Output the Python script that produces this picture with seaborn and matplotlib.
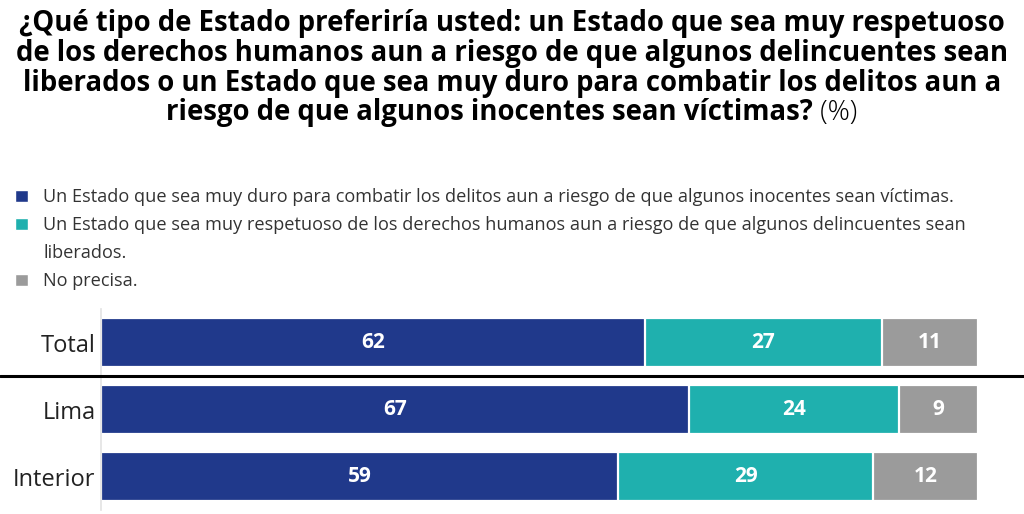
import matplotlib
matplotlib.use('Agg')
import matplotlib.pyplot as plt
import matplotlib.transforms as mtransforms
from matplotlib.patches import Patch
from matplotlib.lines import Line2D
import seaborn as sns
import pandas as pd

categories = ['Total', 'Lima', 'Interior']
duro = [62, 67, 59]
respetuoso = [27, 24, 29]
no_precisa = [11, 9, 12]

legend_labels = [
    'Un Estado que sea muy duro para combatir los delitos aun a riesgo de que algunos inocentes sean víctimas.',
    'Un Estado que sea muy respetuoso de los derechos humanos aun a riesgo de que algunos delincuentes sean',
    'liberados.',
    'No precisa.',
]
title_lines = [
    '¿Qué tipo de Estado preferiría usted: un Estado que sea muy respetuoso',
    'de los derechos humanos aun a riesgo de que algunos delincuentes sean',
    'liberados o un Estado que sea muy duro para combatir los delitos aun a',
    'riesgo de que algunos inocentes sean víctimas?',
]
title_suffix = ' (%)'

NAVY = '#20398b'
TEAL = '#1fb0ae'
GRAY = '#9b9b9b'

sns.set_theme(style='white')
plt.rcParams['font.family'] = ['Open Sans', 'DejaVu Sans']

fig = plt.figure(figsize=(10.24, 5.14), dpi=100)
ax = fig.add_axes([101 / 1024, 1 - 510 / 514, 877 / 1024, (510 - 309) / 514])

df = pd.DataFrame({'cat': categories, 'duro': duro, 'resp': respetuoso, 'np': no_precisa})
df['c1'] = df['duro']
df['c2'] = df['duro'] + df['resp']
df['c3'] = df['c2'] + df['np']

for col, colr in [('c3', GRAY), ('c2', TEAL), ('c1', NAVY)]:
    sns.barplot(data=df, x=col, y='cat', color=colr, saturation=1, width=0.73,
                edgecolor='white', linewidth=1.6, orient='h', ax=ax)

for i, row in df.iterrows():
    lefts = [0, row['c1'], row['c2']]
    vals = [row['duro'], row['resp'], row['np']]
    for l, v in zip(lefts, vals):
        ax.text(l + v / 2, i, str(v), ha='center', va='center', color='white',
                fontsize=15, fontweight='bold')

ax.set_xlim(0, 100)
ax.set_ylim(2.5, -0.5)
ax.set_xlabel('')
ax.set_ylabel('')
ax.set_xticks([])
for s in ['top', 'right', 'bottom']:
    ax.spines[s].set_visible(False)
ax.spines['left'].set_color('#e4e4e4')
ax.tick_params(axis='y', length=0, pad=4, labelsize=17, labelcolor='#222222')

# separator between Total and regions
trans = mtransforms.blended_transform_factory(fig.transFigure, ax.transData)
fig.add_artist(Line2D([0, 1], [0.5, 0.5], transform=trans, color='black', lw=2.2))

# legend
handles = [Patch(facecolor=NAVY), Patch(facecolor=TEAL),
           Patch(facecolor='none', edgecolor='none'), Patch(facecolor=GRAY)]
fig.legend(handles, legend_labels, loc='upper left', bbox_to_anchor=(0.008, 1 - 181 / 514),
           frameon=False, fontsize=13.1, handlelength=0.68, handleheight=0.68,
           handletextpad=0.85, labelspacing=0.55, borderaxespad=0, labelcolor='#333333')

# title
baselines = [31, 61, 91, 120]
TFS = 19.8
for k, line in enumerate(title_lines[:-1]):
    fig.text(0.5, 1 - baselines[k] / 514, line, ha='center', va='baseline',
             fontsize=TFS, fontweight='bold', color='black')

fig.canvas.draw()
r = fig.canvas.get_renderer()
tb = fig.text(0, 1 - baselines[3] / 514, title_lines[-1], ha='left', va='baseline',
              fontsize=TFS, fontweight='bold', color='black')
ts = fig.text(0, 1 - baselines[3] / 514, title_suffix, ha='left', va='baseline',
              fontsize=TFS, fontweight='light', color='black')
wb = tb.get_window_extent(r).width / fig.bbox.width
ws = ts.get_window_extent(r).width / fig.bbox.width
x0 = 0.5 - (wb + ws) / 2
tb.set_x(x0)
ts.set_x(x0 + wb)

fig.savefig('out.png', dpi=100)
